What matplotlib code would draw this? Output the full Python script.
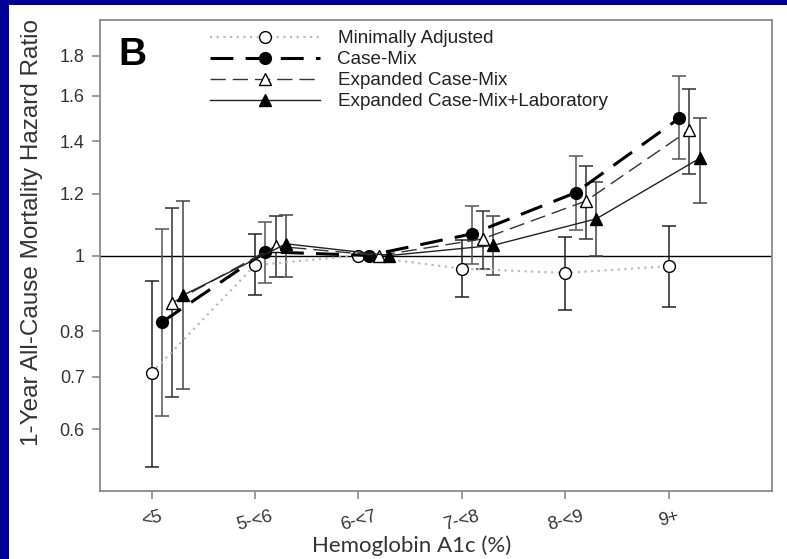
import numpy as np
import matplotlib
matplotlib.use("Agg")
import matplotlib.pyplot as plt
from matplotlib.patches import Rectangle

categories = ['<5', '5-<6', '6-<7', '7-<8', '8-<9', '9+']

min_hr = [0.708, 0.972, 1.0, 0.962, 0.950, 0.969]
min_lo = [0.537, 0.891, 1.0, 0.884, 0.853, 0.860]
min_hi = [0.927, 1.065, 1.0, 1.047, 1.057, 1.090]

cm_hr = [0.822, 1.011, 1.0, 1.066, 1.203, 1.497]
cm_lo = [0.624, 0.923, 1.0, 0.975, 1.077, 1.327]
cm_hi = [1.082, 1.103, 1.0, 1.157, 1.340, 1.697]

ecm_hr = [0.870, 1.028, 1.0, 1.050, 1.174, 1.447]
ecm_lo = [0.659, 0.939, 1.0, 0.960, 1.051, 1.270]
ecm_hi = [1.149, 1.123, 1.0, 1.139, 1.301, 1.631]

lab_hr = [0.889, 1.035, 1.0, 1.030, 1.114, 1.331]
lab_lo = [0.675, 0.939, 1.0, 0.943, 0.998, 1.168]
lab_hi = [1.175, 1.128, 1.0, 1.123, 1.241, 1.497]

series_labels = ['Minimally Adjusted', 'Case-Mix', 'Expanded Case-Mix',
                 'Expanded Case-Mix+Laboratory']
y_ticks = [0.6, 0.7, 0.8, 1.0, 1.2, 1.4, 1.6, 1.8]
y_ticklabels = ['0.6', '0.7', '0.8', '1', '1.2', '1.4', '1.6', '1.8']

plt.rcParams['font.family'] = ['Liberation Sans', 'DejaVu Sans']

fig = plt.figure(figsize=(7.87, 5.59), dpi=100)
fig.patch.set_facecolor('white')
blue = '#000099'
fig.patches.append(Rectangle((0, 0), 9 / 787, 1, transform=fig.transFigure,
                             facecolor=blue, edgecolor='none', zorder=0))
fig.patches.append(Rectangle((0, 1 - 4.5 / 559), 1, 4.5 / 559, transform=fig.transFigure,
                             facecolor=blue, edgecolor='none', zorder=0))

ax = fig.add_axes([100 / 787, 1 - 491 / 559, 672 / 787, 471 / 559])
ax.set_yscale('log')

x = np.arange(len(categories))
offsets = [0.0, 0.1, 0.2, 0.3]

styles = [
    dict(color='#bcbcbc', lw=1.6, ls=(0, (1, 2)), marker='o', mfc='white', mec='black',
         ms=8.5, mew=1.0),
    dict(color='black', lw=2.2, ls=(0, (7.5, 4)), marker='o', mfc='black', mec='black',
         ms=8.5, mew=1.0),
    dict(color='#333333', lw=1.0, ls=(0, (11, 5)), marker='^', mfc='white', mec='black',
         ms=8.5, mew=1.0),
    dict(color='#222222', lw=1.0, ls='-', marker='^', mfc='black', mec='black',
         ms=8.5, mew=1.0),
]
err_colors = ['#222222', '#555555', '#333333', '#444444']

data = [(min_hr, min_lo, min_hi), (cm_hr, cm_lo, cm_hi),
        (ecm_hr, ecm_lo, ecm_hi), (lab_hr, lab_lo, lab_hi)]

ax.axhline(1.0, color='black', lw=1.0, zorder=1)

handles = []
for i, ((hr, lo, hi), st, lab) in enumerate(zip(data, styles, series_labels)):
    hr = np.array(hr); lo = np.array(lo); hi = np.array(hi)
    xs = x + offsets[i]
    m = hi > lo
    ax.errorbar(xs[m], hr[m], yerr=[hr[m] - lo[m], hi[m] - hr[m]], fmt='none',
                ecolor=err_colors[i], elinewidth=1.1, capsize=4.7, capthick=1.1, zorder=2)
    line, = ax.plot(xs, hr, label=lab, zorder=3 + i * 0.1, **st)
    handles.append(line)

ax.set_xlim(-0.5, 6.0)
ax.set_ylim(0.5, 2.0)
ax.set_yticks(y_ticks)
ax.set_yticklabels(y_ticklabels)
ax.yaxis.set_minor_locator(matplotlib.ticker.NullLocator())
ax.set_xticks(x)
ax.set_xticklabels(categories, rotation=15, ha='center')

for sp in ax.spines.values():
    sp.set_color('#8a8a8a')
    sp.set_linewidth(1.3)

ax.tick_params(axis='both', colors='#8a8a8a', labelcolor='#333333', labelsize=13,
               width=1.2, length=6, direction='out')
ax.tick_params(axis='y', pad=5)
ax.tick_params(axis='x', pad=6)

ax.set_ylabel('1-Year All-Cause Mortality Hazard Ratio', fontsize=17.5, color='#333333')
ax.yaxis.set_label_coords(-0.085, 0.548)
ax.set_xlabel('Hemoglobin A1c (%)', fontsize=16, color='#333333',
              family=['Lato', 'DejaVu Sans'])
ax.xaxis.set_label_coords(0.464, -0.095)

ax.text(118 / 787, 1 - 65 / 559, 'B', transform=fig.transFigure, fontsize=28,
        fontweight='bold', color='black', ha='left', va='baseline')

leg = ax.legend(handles=handles, loc='upper left',
                bbox_to_anchor=(210 / 787, 1 - 30 / 559), bbox_transform=fig.transFigure,
                frameon=False, fontsize=13.6, handlelength=5.8, handletextpad=0.95,
                labelspacing=0.2, borderpad=0, borderaxespad=0, numpoints=1)
for t in leg.get_texts():
    t.set_color('#222222')

fig.savefig('out.png', dpi=100, facecolor='white')
